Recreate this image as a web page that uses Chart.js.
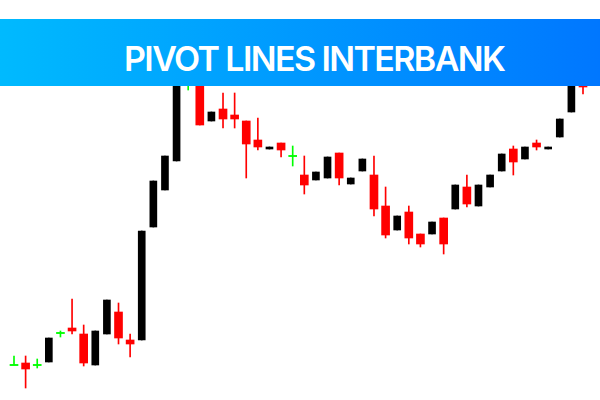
<!DOCTYPE html>
<html>
<head>
<meta charset="utf-8">
<script src="https://cdn.jsdelivr.net/npm/chart.js@4/dist/chart.umd.min.js"></script>
<style>
  html, body { margin: 0; padding: 0; background: #ffffff; }
  #wrap { position: relative; width: 600px; height: 400px; overflow: hidden; }
  #c { position: absolute; left: 0; top: 0; }
  #banner {
    position: absolute; left: 0; top: 19px; width: 600px; height: 67px;
    background: linear-gradient(to right, #00bafe 0%, #0077ff 100%);
    z-index: 2;
  }
  #title {
    position: absolute; left: 124px; top: 6px; height: 67px; line-height: 67px;
    color: #ffffff; font-family: "Inter", "Open Sans", sans-serif; font-weight: 600;
    font-size: 34px; white-space: nowrap; letter-spacing: -1px;
  }
</style>
</head>
<body>
<div id="wrap">
  <canvas id="c" width="600" height="400"></canvas>
  <div id="banner"><div id="title">PIVOT LINES INTERBANK</div></div>
</div>
<script>
// Candle data (price units), one entry per bar
const candleIndex = Array.from({length: 50}, (_, i) => String(i + 1));
const opens  = [1.0835,1.0837,1.0835,1.0838,1.0867,1.0872,1.0866,1.0835,1.0866,1.0888,
                1.0860,1.0860,1.0973,1.1010,1.1039,1.1140,1.1125,1.1079,1.1091,1.1085,
                1.1079,1.1060,1.1051,1.1057,1.1044,1.1025,1.1020,1.1022,1.1047,1.1016,
                1.1029,1.1025,1.0994,1.0970,1.0988,1.0966,1.0966,1.0982,1.0991,1.1013,
                1.0994,1.1013,1.1029,1.1051,1.1041,1.1057,1.1051,1.1063,1.1088,1.1125];
const highs  = [1.0844,1.0844,1.0841,1.0862,1.0869,1.0901,1.0875,1.0869,1.0900,1.0897,
                1.0866,1.0969,1.1019,1.1044,1.1135,1.1150,1.1130,1.1088,1.1107,1.1107,
                1.1079,1.1082,1.1053,1.1057,1.1054,1.1044,1.1028,1.1043,1.1047,1.1022,
                1.1041,1.1044,1.1013,1.0984,1.0994,1.0966,1.0978,1.0982,1.1015,1.1025,
                1.1015,1.1025,1.1046,1.1054,1.1053,1.1060,1.1053,1.1081,1.1114,1.1130];
const lows   = [1.0835,1.0812,1.0832,1.0838,1.0863,1.0866,1.0834,1.0835,1.0866,1.0856,
                1.0843,1.0860,1.0973,1.1010,1.1039,1.1110,1.1075,1.1079,1.1072,1.1072,
                1.1022,1.1050,1.1051,1.1043,1.1034,1.1006,1.1020,1.1022,1.1015,1.1016,
                1.1029,1.0984,1.0962,1.0970,1.0956,1.0953,1.0966,1.0946,1.0991,1.0993,
                1.0994,1.1013,1.1029,1.1025,1.1041,1.1050,1.1051,1.1063,1.1088,1.1106];
const closes = [1.0835,1.0831,1.0835,1.0862,1.0867,1.0869,1.0837,1.0869,1.0900,1.0862,
                1.0856,1.0969,1.1019,1.1044,1.1135,1.1140,1.1075,1.1088,1.1081,1.1081,
                1.1056,1.1053,1.1053,1.1050,1.1044,1.1015,1.1028,1.1043,1.1022,1.1022,
                1.1041,1.0991,1.0965,1.0984,1.0962,1.0956,1.0978,1.0956,1.1015,1.0996,
                1.1015,1.1025,1.1046,1.1038,1.1053,1.1053,1.1053,1.1081,1.1114,1.1113];

const UP = '#000000', DOWN = '#ff0000', DOJI = '#00ff00';
const tick = 0.00006;
const colorOf = i => closes[i] > opens[i] ? UP : (closes[i] < opens[i] ? DOWN : DOJI);

const wicks = opens.map((o, i) => [lows[i], highs[i]]);
const upBodies = opens.map((o, i) => closes[i] > o ? [o, closes[i]] : null);
const downBodies = opens.map((o, i) => closes[i] < o ? [closes[i], o] : null);
const dojiBodies = opens.map((o, i) => closes[i] === o ? [o - tick, o + tick] : null);

// fit the banner title to the reference width
(function fitTitle() {
  const el = document.getElementById('title');
  const target = 381;
  const w = el.getBoundingClientRect().width;
  const n = el.textContent.length - 1;
  const ls = -1 + (target - w) / n;
  el.style.letterSpacing = ls.toFixed(2) + 'px';
})();

new Chart(document.getElementById('c'), {
  type: 'bar',
  data: {
    labels: candleIndex,
    datasets: [
      { data: wicks, backgroundColor: candleIndex.map((_, i) => colorOf(i)), barThickness: 1, grouped: false, order: 4 },
      { data: upBodies, backgroundColor: UP, barThickness: 7, grouped: false, order: 3 },
      { data: downBodies, backgroundColor: DOWN, barThickness: 8, grouped: false, order: 2 },
      { data: dojiBodies, backgroundColor: DOJI, barThickness: 8, grouped: false, order: 1 }
    ]
  },
  options: {
    responsive: false,
    animation: false,
    layout: { padding: { left: 14, right: 17, top: 0, bottom: 0 } },
    plugins: { legend: { display: false }, tooltip: { enabled: false }, title: { display: false } },
    scales: {
      x: { display: false, offset: false, grid: { display: false } },
      y: { display: false, min: 1.08, max: 1.12, grid: { display: false } }
    },
    datasets: { bar: { clip: false, borderSkipped: false } }
  }
});
</script>
</body>
</html>
